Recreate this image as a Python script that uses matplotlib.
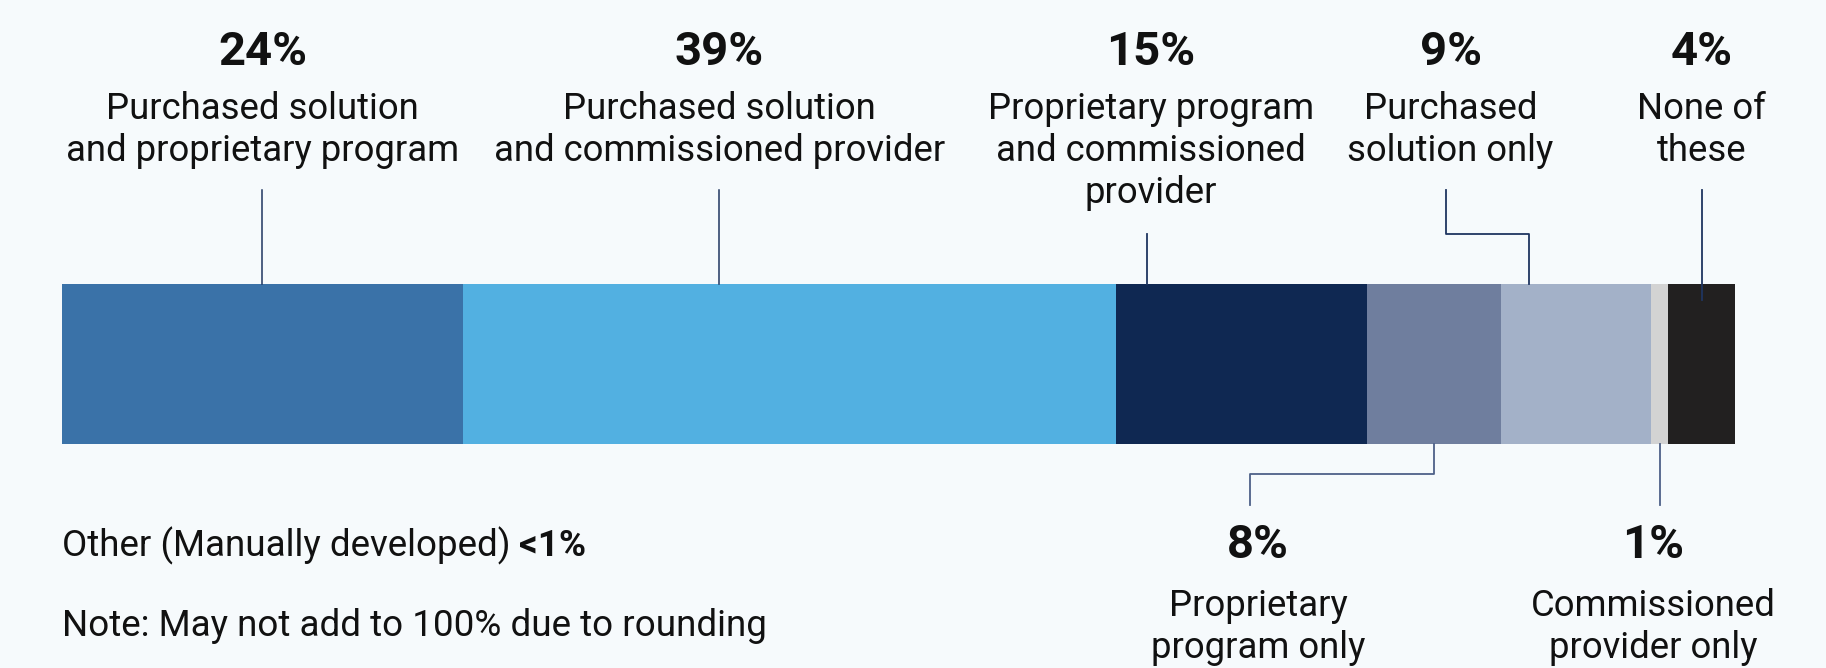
import matplotlib.pyplot as plt
import numpy as np

plt.rcParams['font.family'] = ['Roboto', 'DejaVu Sans']

values = [24, 39, 15, 8, 9, 1, 4]
pct_labels = ["24%", "39%", "15%", "8%", "9%", "1%", "4%"]
names = [
    "Purchased solution\nand proprietary program",
    "Purchased solution\nand commissioned provider",
    "Proprietary program\nand commissioned\nprovider",
    "Proprietary\nprogram only",
    "Purchased\nsolution only",
    "Commissioned\nprovider only",
    "None of\nthese",
]
colors = ["#3A72A8", "#52B0E1", "#0F2852", "#6F7E9E", "#A3B1C8", "#D3D3D3", "#222020"]
other_note = "Other (Manually developed)"
other_value = "<1%"
note = "Note: May not add to 100% due to rounding"

bg = "#F6FAFC"
W, H = 1826, 668
fig = plt.figure(figsize=(W / 100, H / 100), dpi=100, facecolor=bg)
ax = fig.add_axes([61.7 / W, 0, (1735 - 61.7) / W, 1])
ax.set_facecolor(bg)
ax.set_xlim(0, sum(values))
ax.set_ylim(H, 0)  # y in pixels from top
ax.axis("off")

lefts = np.concatenate([[0], np.cumsum(values)[:-1]])
ax.barh(364, values, left=lefts, height=160, color=colors, linewidth=0)

centers = lefts + np.array(values) / 2
top_line = "#1F3560"
bot_line = "#4E6188"
pct_size = 34
lab_size = 26.3
LINE = 42  # px between label lines

def label(x, y_pct, y_first, i):
    ax.text(x, y_pct, pct_labels[i], ha="center", va="center",
            fontsize=pct_size, fontweight="bold", color="#111111")
    for k, line in enumerate(names[i].split("\n")):
        ax.text(x, y_first + k * LINE, line, ha="center", va="center_baseline",
                fontsize=lab_size, color="#111111")

# labels above the bar
label(12.0, 52, 105, 0)
ax.plot([centers[0]] * 2, [190, 284], color=top_line, lw=1.1)
label(39.3, 52, 105, 1)
ax.plot([39.3] * 2, [190, 284], color=top_line, lw=1.1)
label(65.1, 52, 105, 2)
ax.plot([64.86] * 2, [234, 284], color=top_line, lw=1.3)
label(83.0, 52, 105, 4)
ax.plot([82.74, 82.74, 87.7, 87.7], [190, 234, 234, 284], color=top_line, lw=1.3)
label(centers[6], 52, 105, 6)
ax.plot([centers[6]] * 2, [190, 300], color=top_line, lw=1.3)

# labels below the bar
label(71.5, 545, 602, 3)
ax.plot([centers[3], centers[3], 71.0, 71.0], [444, 474, 474, 505], color=bot_line, lw=1.3)
label(95.1, 545, 602, 5)
ax.plot([centers[5]] * 2, [444, 505], color=bot_line, lw=1.3)

fs_note = 26.5
t = ax.text(0, 542, other_note + " ", ha="left", va="center_baseline", fontsize=fs_note, color="#111111")
fig.canvas.draw()
bb = t.get_window_extent().transformed(ax.transData.inverted())
ax.text(bb.x1, 542, other_value, ha="left", va="center_baseline", fontsize=fs_note,
        fontweight="bold", color="#111111")
ax.text(0, 622, note, ha="left", va="center_baseline", fontsize=fs_note, color="#111111")

fig.savefig("out.png", dpi=100, facecolor=bg)
